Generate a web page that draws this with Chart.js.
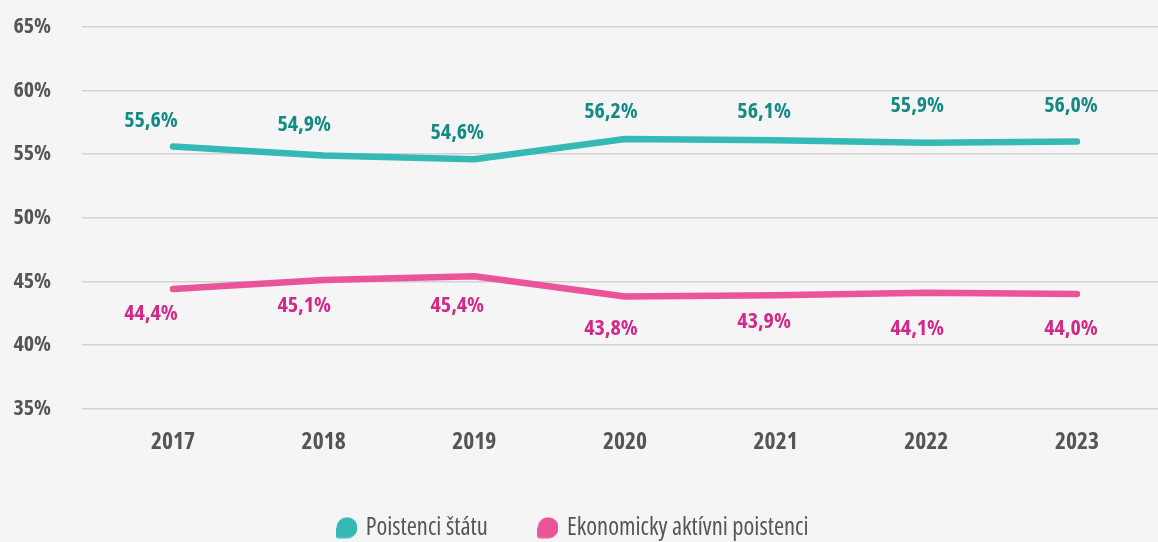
<!DOCTYPE html>
<html>
<head>
<meta charset="utf-8">
<script src="https://cdn.jsdelivr.net/npm/chart.js@4"></script>
<style>
  html, body { margin:0; padding:0; background:#f5f5f5; }
  #wrap { width:1158px; height:542px; position:relative; }
</style>
</head>
<body>
<div id="wrap"><canvas id="c" width="1158" height="542"></canvas></div>
<script>
const years = [2017, 2018, 2019, 2020, 2021, 2022, 2023];
const statePolicyholders = [55.6, 54.9, 54.6, 56.2, 56.1, 55.9, 56.0];
const activePolicyholders = [44.4, 45.1, 45.4, 43.8, 43.9, 44.1, 44.0];
const seriesNames = ['Poistenci štátu', 'Ekonomicky aktívni poistenci'];
const yTicks = [35, 40, 45, 50, 55, 60, 65];

const FONT = "'Open Sans', 'DejaVu Sans Condensed', sans-serif";
const TEAL = '#35b9b4', PINK = '#ea5599';
const TEAL_TXT = '#138a84', PINK_TXT = '#d2288a';

function marker(color) {
  const c = document.createElement('canvas');
  c.width = 21; c.height = 22;
  const g = c.getContext('2d');
  g.fillStyle = color;
  g.beginPath();
  g.moveTo(0, 11);
  g.arc(11, 11, 10.5, Math.PI, Math.PI * 0.5, false);
  g.lineTo(2.5, 21.5);
  g.quadraticCurveTo(0, 21.5, 0, 19);
  g.closePath();
  g.fill();
  return c;
}

// label nudges (style only)
const labelDx = [-22, -19.5, -17, -14, -11.5, -9, -6];
const tealDy = [-26, -31, -27, -27, -28, -37, -36];
const pinkDy = [25, 26, 29, 32, 26, 36, 35];

const labelPlugin = {
  id: 'valueLabels',
  afterDatasetsDraw(chart) {
    const ctx = chart.ctx;
    ctx.save();
    ctx.font = "bold condensed 22px " + FONT;
    ctx.textAlign = 'center';
    ctx.textBaseline = 'middle';
    chart.data.datasets.forEach((ds, di) => {
      const meta = chart.getDatasetMeta(di);
      ctx.fillStyle = di === 0 ? TEAL_TXT : PINK_TXT;
      meta.data.forEach((pt, i) => {
        const v = ds.data[i].y;
        const txt = v.toFixed(1).replace('.', ',') + '%';
        const dy = di === 0 ? tealDy[i] : pinkDy[i];
        ctx.fillText(txt, pt.x + labelDx[i], pt.y + dy);
      });
    });
    ctx.restore();
  }
};

const bgPlugin = {
  id: 'bg',
  beforeDraw(chart) {
    const ctx = chart.ctx;
    ctx.save();
    ctx.fillStyle = '#f5f5f5';
    ctx.fillRect(0, 0, chart.width, chart.height);
    ctx.restore();
  }
};

const legendShift = {
  id: 'legendShift',
  afterLayout(chart) {
    if (chart.legend) { chart.legend.left -= 5; chart.legend.right -= 5; }
  }
};

new Chart(document.getElementById('c'), {
  type: 'line',
  data: {
    datasets: [
      {
        label: seriesNames[0],
        data: years.map((y, i) => ({ x: y, y: statePolicyholders[i] })),
        borderColor: TEAL, backgroundColor: TEAL,
        pointStyle: marker(TEAL),
        borderWidth: 6.5, borderCapStyle: 'round', borderJoinStyle: 'round',
        pointRadius: 0, tension: 0
      },
      {
        label: seriesNames[1],
        data: years.map((y, i) => ({ x: y, y: activePolicyholders[i] })),
        borderColor: PINK, backgroundColor: PINK,
        pointStyle: marker(PINK),
        borderWidth: 6.5, borderCapStyle: 'round', borderJoinStyle: 'round',
        pointRadius: 0, tension: 0
      }
    ]
  },
  options: {
    responsive: false,
    animation: false,
    layout: { padding: { top: 27, left: 0, right: 0, bottom: -8 } },
    scales: {
      x: {
        type: 'linear',
        min: 2016.396, max: 2023.538,
        afterBuildTicks(scale) { scale.ticks = years.map(v => ({ value: v })); },
        afterFit(scale) { scale.height = 54; scale.paddingLeft = 0; scale.paddingRight = 0; },
        grid: { display: false },
        border: { display: false },
        ticks: {
          color: '#555555',
          font: { family: FONT, size: 23.5, weight: 'bold condensed' },
          padding: 12,
          callback: v => String(v),
          maxRotation: 0, autoSkip: false
        }
      },
      y: {
        min: 35, max: 65,
        afterBuildTicks(scale) { scale.ticks = yTicks.map(v => ({ value: v })); },
        afterFit(scale) { scale.width = 82; scale.paddingTop = 0; scale.paddingBottom = 0; },
        grid: { color: '#d2d2d2', lineWidth: 1.5, drawTicks: false },
        border: { display: false },
        ticks: {
          color: '#555555',
          font: { family: FONT, size: 22, weight: 'bold condensed' },
          padding: 31,
          callback: v => v + '%'
        }
      }
    },
    plugins: {
      legend: {
        position: 'bottom',
        labels: {
          usePointStyle: true,
          pointStyleWidth: 14,
          boxHeight: 22,
          color: '#555555',
          font: { family: FONT, size: 24.5, weight: 'condensed' },
          padding: 53
        }
      },
      tooltip: { enabled: false }
    }
  },
  plugins: [bgPlugin, labelPlugin, legendShift]
});
</script>
</body>
</html>
